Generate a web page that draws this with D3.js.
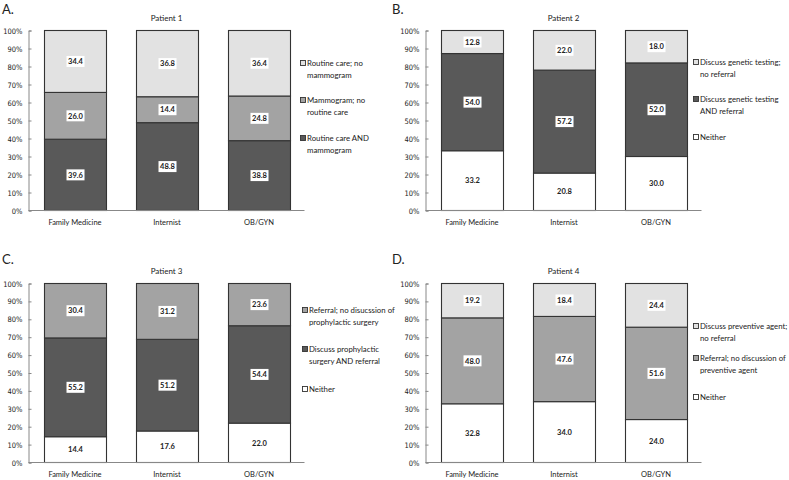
<!DOCTYPE html>
<html><head><meta charset="utf-8">
<script src="https://cdn.jsdelivr.net/npm/d3@7"></script>
<style>
body{margin:0;background:#fff;}
text{font-family:Lato, "Open Sans", sans-serif;fill:#222;}
</style></head>
<body><svg id="c" width="789" height="480"></svg>
<script>
const categories = ["Family Medicine", "Internist", "OB/GYN"];
const yTicks = [0,10,20,30,40,50,60,70,80,90,100];

// Patient 1 (bottom to top)
const p1Series = ["Routine care AND mammogram", "Mammogram; no routine care", "Routine care; no mammogram"];
const p1Legend = [["Routine care; no","mammogram"],["Mammogram; no","routine care"],["Routine care AND","mammogram"]];
const p1Values = [[39.6,48.8,38.8],[26.0,14.4,24.8],[34.4,36.8,36.4]];
const p1Colors = ["#595959","#a3a3a3","#e2e2e2"];

// Patient 2
const p2Series = ["Neither","Discuss genetic testing AND referral","Discuss genetic testing; no referral"];
const p2Legend = [["Discuss genetic testing;","no referral"],["Discuss genetic testing","AND referral"],["Neither"]];
const p2Values = [[33.2,20.8,30.0],[54.0,57.2,52.0],[12.8,22.0,18.0]];
const p2Colors = ["#ffffff","#595959","#e2e2e2"];

// Patient 3
const p3Series = ["Neither","Discuss prophylactic surgery AND referral","Referral; no disucssion of prophylactic surgery"];
const p3Legend = [["Referral; no disucssion of","prophylactic surgery"],["Discuss prophylactic","surgery AND referral"],["Neither"]];
const p3Values = [[14.4,17.6,22.0],[55.2,51.2,54.4],[30.4,31.2,23.6]];
const p3Colors = ["#ffffff","#595959","#a3a3a3"];

// Patient 4
const p4Series = ["Neither","Referral; no discussion of preventive agent","Discuss preventive agent; no referral"];
const p4Legend = [["Discuss preventive agent;","no referral"],["Referral; no discussion of","preventive agent"],["Neither"]];
const p4Values = [[32.8,34.0,24.0],[48.0,47.6,51.6],[19.2,18.4,24.4]];
const p4Colors = ["#ffffff","#a3a3a3","#e2e2e2"];

const panels = [
 {letter:"A.", title:"Patient 1", series:p1Series, legend:p1Legend, values:p1Values, colors:p1Colors,
  ox:0, oy:0, x0:28.5, top:30.5, bot:210.5, lx:300, ly:[66,103,141]},
 {letter:"B.", title:"Patient 2", series:p2Series, legend:p2Legend, values:p2Values, colors:p2Colors,
  ox:390, oy:0, x0:425.5, top:30.5, bot:210.5, lx:693, ly:[65,102,140]},
 {letter:"C.", title:"Patient 3", series:p3Series, legend:p3Legend, values:p3Values, colors:p3Colors,
  ox:0, oy:250, x0:28.5, top:283.5, bot:462.5, lx:302, ly:[313,352,392]},
 {letter:"D.", title:"Patient 4", series:p4Series, legend:p4Legend, values:p4Values, colors:p4Colors,
  ox:390, oy:250, x0:425.5, top:283.5, bot:462.5, lx:693, ly:[329,361,400]}
];

const svg = d3.select("#c");

panels.forEach(p => {
  const g = svg.append("g");
  g.append("text").attr("x", p.ox+2).attr("y", p.oy+14).attr("font-size", 13).text(p.letter).style("fill","#222");

  const x = d3.scaleBand().domain(categories).range([p.x0+0.5, p.x0+276.5]).paddingInner(0.326).paddingOuter(0.163);
  const y = d3.scaleLinear().domain([0,100]).range([p.bot, p.top]);

  g.append("text").attr("x", p.x0+138).attr("y", p.top-10).attr("text-anchor","middle")
    .attr("font-size", 8).text(p.title);

  // y axis
  const ya = g.append("g").attr("transform", `translate(${p.x0},0)`)
    .call(d3.axisRight(y).tickValues(yTicks).tickSize(3).tickFormat(""));
  ya.select(".domain").attr("stroke","#888");
  ya.selectAll(".tick line").attr("stroke","#888");
  g.selectAll(".ylab").data(yTicks).enter().append("text")
    .attr("x", p.x0-6).attr("y", d => y(d)+3).attr("text-anchor","end")
    .attr("font-size", 7.5).style("font-family","'DejaVu Sans Condensed','DejaVu Sans',sans-serif")
    .text(d => d+"%");

  // stacked data
  const rows = categories.map((c,i) => {
    const o = {cat:c};
    p.series.forEach((s,k) => o[s] = p.values[k][i]);
    return o;
  });
  const stack = d3.stack().keys(p.series)(rows);
  stack.forEach((layer,k) => {
    g.selectAll(null).data(layer).enter().append("rect")
      .attr("x", d => Math.round(x(d.data.cat))+0.5)
      .attr("width", Math.round(x.bandwidth()))
      .attr("y", d => y(d[1]))
      .attr("height", d => y(d[0]) - y(d[1]))
      .attr("fill", p.colors[k]).attr("stroke","#333").attr("stroke-width",1.1);
  });
  stack.forEach((layer,k) => {
    layer.forEach(d => {
      const cx = Math.round(x(d.data.cat)) + x.bandwidth()/2 + 0.5;
      const cy = y((d[0]+d[1])/2);
      const txt = d3.format(".1f")(d[1]-d[0]);
      g.append("rect").attr("x", cx-9).attr("y", cy-5.5).attr("width", 18).attr("height", 11).attr("fill","#fff");
      g.append("text").attr("x", cx).attr("y", cy+2.7).attr("text-anchor","middle")
        .attr("font-size", 7.5).attr("font-weight","bold").text(txt);
    });
  });

  // x axis
  g.append("line").attr("x1", p.x0).attr("x2", p.x0+276).attr("y1", p.bot).attr("y2", p.bot).attr("stroke","#888");
  g.selectAll(null).data(categories).enter().append("text")
    .attr("x", d => x(d)+x.bandwidth()/2).attr("y", p.bot+14).attr("text-anchor","middle")
    .attr("font-size", 7.5).text(d => d);

  // legend
  const order = [2,1,0];
  order.forEach((k,j) => {
    const ly = p.ly[j];
    g.append("rect").attr("x", p.lx+0.5).attr("y", ly-5.5).attr("width",5).attr("height",5)
      .attr("fill", p.colors[k]).attr("stroke","#333").attr("stroke-width",0.9);
    p.legend[j].forEach((line,li) => {
      g.append("text").attr("x", p.lx+7).attr("y", ly + li*12).attr("font-size", 7.8).text(line);
    });
  });
});
</script></body></html>
